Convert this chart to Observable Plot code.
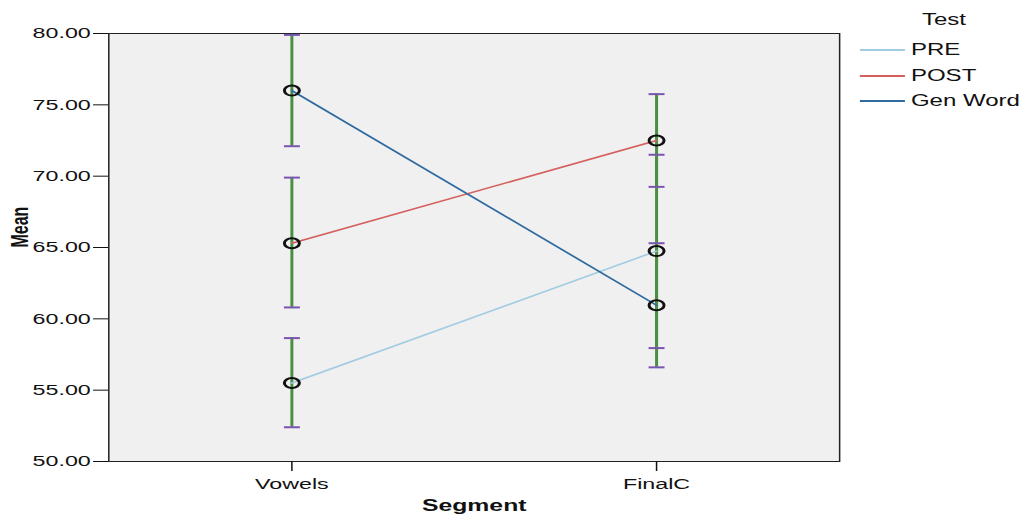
<!DOCTYPE html>
<html>
<head>
<meta charset="utf-8">
<script src="https://cdn.jsdelivr.net/npm/d3@7"></script>
<script src="https://cdn.jsdelivr.net/npm/@observablehq/plot@0.6"></script>
<style>
  html, body { margin: 0; padding: 0; background: #fff; }
  body { font-family: "Liberation Sans", Arial, sans-serif; }
  #wrap { position: relative; width: 687px; height: 518px; transform: scaleX(1.5007); transform-origin: 0 0; }
  #legend { position: absolute; left: 0; top: 0; width: 687px; height: 130px; pointer-events: none; color: #111; }
  #legend .title { position: absolute; left: 600px; width: 58px; top: 11px; text-align: center; font-size: 16px; }
  #legend .item { position: absolute; left: 573px; height: 20px; display: flex; align-items: center; font-size: 16px; }
  #legend .swatch { width: 30px; height: 2px; margin-right: 4px; }
</style>
</head>
<body>
<div id="wrap"><div id="legend"></div></div>
<script>
// Segments on the x axis and test series
const segments = ["Vowels", "FinalC"];
const tests = ["PRE", "POST", "Gen Word"];
const testColors = ["#a3cce2", "#d45f5c", "#2f6aa0"];

// Means and error bar limits per segment (Vowels, FinalC)
const preMean = [55.5, 64.75];
const preLow = [52.4, 57.95];
const preHigh = [58.65, 71.5];

const postMean = [65.3, 72.5];
const postLow = [60.8, 69.25];
const postHigh = [69.9, 75.75];

const genMean = [76.0, 60.95];
const genLow = [72.1, 56.6];
const genHigh = [79.9, 65.3];

// Y axis ticks
const yTicks = [50, 55, 60, 65, 70, 75, 80];

const series = [
  {test: tests[0], mean: preMean, low: preLow, high: preHigh},
  {test: tests[1], mean: postMean, low: postLow, high: postHigh},
  {test: tests[2], mean: genMean, low: genLow, high: genHigh}
];
const rows = series.flatMap(s => segments.map((seg, i) => ({
  test: s.test, segment: seg, mean: s.mean[i], low: s.low[i], high: s.high[i]
})));

// Horizontal cap used for the error bar ends
const capSymbol = {
  draw(context, size) {
    const w = Math.sqrt(size) / 2;
    context.moveTo(-w, 0);
    context.lineTo(w, 0);
  }
};

const chart = Plot.plot({
  width: 687,
  height: 518,
  marginLeft: 72,
  marginRight: 128,
  marginTop: 33,
  marginBottom: 57,
  style: {fontFamily: "'Liberation Sans', Arial, sans-serif", fontSize: "15px", color: "#111", background: "transparent"},
  x: {type: "point", domain: segments, padding: 0.5},
  y: {domain: [50, 80]},
  color: {domain: tests, range: testColors},
  marks: [
    Plot.frame({fill: "#f0f0f0", stroke: "#222", strokeWidth: 1}),
    Plot.axisY({ticks: yTicks, tickFormat: d3.format(".2f"), tickSize: 10, tickPadding: 2, fontSize: 15.5, label: null, stroke: "#111"}),
    Plot.axisX({tickSize: 10, tickPadding: 6, fontSize: 15.5, label: null, stroke: "#111"}),
    Plot.text(["Mean"], {frameAnchor: "left", dx: -59, rotate: -90, fontWeight: "bold", fontSize: 16, fill: "#111"}),
    Plot.text(["Segment"], {frameAnchor: "bottom", dy: 49, fontWeight: "bold", fontSize: 16.5, fill: "#111"}),
    // error bars
    Plot.ruleX(rows, {x: "segment", y1: "low", y2: "high", stroke: "#4a9042", strokeWidth: 2}),
    Plot.dot(rows, {x: "segment", y: "low", symbol: capSymbol, r: 6, stroke: "#7a55b0", strokeWidth: 2}),
    Plot.dot(rows, {x: "segment", y: "high", symbol: capSymbol, r: 6, stroke: "#7a55b0", strokeWidth: 2}),
    // mean lines
    Plot.line(rows, {x: "segment", y: "mean", z: "test", stroke: "test", strokeWidth: 1.5}),
    Plot.dot(rows, {x: "segment", y: "mean", r: 5, stroke: "#111", strokeWidth: 2, fill: "none"})
  ]
});
const wrap = document.getElementById("wrap");
wrap.insertBefore(chart, wrap.firstChild);

// Legend
const legend = document.getElementById("legend");
const title = document.createElement("div");
title.className = "title";
title.textContent = "Test";
legend.appendChild(title);
const rowY = [40, 66, 91];
tests.forEach((t, i) => {
  const item = document.createElement("div");
  item.className = "item";
  item.style.top = rowY[i] + "px";
  const sw = document.createElement("span");
  sw.className = "swatch";
  sw.style.background = testColors[i];
  const lab = document.createElement("span");
  lab.textContent = t;
  item.appendChild(sw);
  item.appendChild(lab);
  legend.appendChild(item);
});
</script>
</body>
</html>
